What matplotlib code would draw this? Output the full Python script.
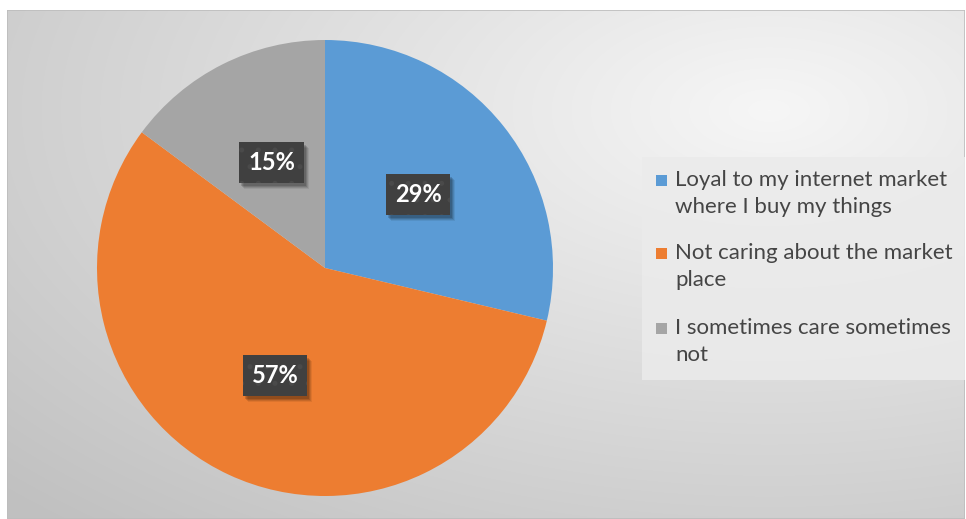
import numpy as np
import matplotlib
matplotlib.use("Agg")
import matplotlib.pyplot as plt
from matplotlib.patches import Rectangle

categories = [
    "Loyal to my internet market\nwhere I buy my things",
    "Not caring about the market\nplace",
    "I sometimes care sometimes\nnot",
]
values = [29, 57, 15]
colors = ["#5B9BD5", "#ED7D31", "#A5A5A5"]

W, H = 966, 519
fig = plt.figure(figsize=(W / 100, H / 100), dpi=100)
fig.patch.set_facecolor("white")

def fx(px):
    return px / W

def fy(py):
    return 1 - py / H

# chart area with a soft radial gradient
x0, y0, x1, y1 = 7, 10, 965, 519
bg = fig.add_axes([fx(x0), fy(y1), fx(x1 - x0), (y1 - y0) / H])
bg.set_axis_off()
gx = np.linspace(x0, x1, 400)
gy = np.linspace(y0, y1, 220)
GX, GY = np.meshgrid(gx, gy)
cx, cy = 770, 110
d = np.sqrt(((GX - cx) / (x1 - x0)) ** 2 + ((GY - cy) / (y1 - y0)) ** 2)
t = np.clip(d / 1.1, 0, 1)
shade = 0.965 - 0.21 * t
img = np.dstack([shade, shade, shade])
bg.imshow(img, extent=[0, 1, 0, 1], aspect="auto", origin="upper", interpolation="bilinear")
bg.set_xlim(0, 1)
bg.set_ylim(0, 1)
bg.add_patch(Rectangle((0, 0), 1, 1, transform=bg.transAxes, fill=False,
                       edgecolor="#bdbdbd", linewidth=1.2))

# pie
pcx, pcy, r = 325, 268, 228
ax = fig.add_axes([fx(pcx - r), fy(pcy + r), 2 * r / W, 2 * r / H])
ax.set_axis_off()
wedges, _ = ax.pie(values, colors=colors, startangle=90, counterclock=False,
                   radius=1, wedgeprops=dict(linewidth=0))
ax.set_xlim(-1, 1)
ax.set_ylim(-1, 1)
ax.set_aspect("equal")

plt.rcParams["hatch.color"] = "#4a4a4a"
plt.rcParams["hatch.linewidth"] = 1.2
labels = []
for w, v in zip(wedges, values):
    mid = np.deg2rad((w.theta1 + w.theta2) / 2)
    lx, ly = 0.52 * np.cos(mid), 0.52 * np.sin(mid)
    txt = ax.text(lx, ly, f"{v}%", ha="center", va="center", color="white",
                  fontsize=17, fontweight="bold", family="Lato", zorder=4,
                  bbox=dict(boxstyle="square,pad=0.38", facecolor="#404040",
                            edgecolor="#4a4a4a", linewidth=0, hatch="."))
    labels.append(txt)

# soft drop shadow behind each label box, above the wedges
fig.canvas.draw()
inv = fig.transFigure.inverted()
for txt in labels:
    ext = txt.get_bbox_patch().get_window_extent()
    for k, (dx, dy, a) in enumerate([(5, -6, 0.07), (4, -5, 0.10), (3, -4, 0.13), (2, -3, 0.15)]):
        (fx0, fy0), (fx1, fy1) = inv.transform([(ext.x0 + dx, ext.y0 + dy),
                                                (ext.x1 + dx, ext.y1 + dy)])
        ax.add_patch(Rectangle((fx0, fy0), fx1 - fx0, fy1 - fy0,
                               transform=fig.transFigure, clip_on=False,
                               facecolor=(0, 0, 0, a), edgecolor="none",
                               zorder=3 + k * 0.01))

# legend panel
lx0, ly0, lx1, ly1 = 642, 157, 965, 380
fig.patches.append(Rectangle((fx(lx0), fy(ly1)), fx(lx1 - lx0), (ly1 - ly0) / H,
                             transform=fig.transFigure, facecolor="#ebebeb",
                             edgecolor="none", alpha=0.85, zorder=1))
first_line_y = [180, 253, 328]
for cat, col, yy in zip(categories, colors, first_line_y):
    fig.patches.append(Rectangle((fx(656), fy(yy + 6)), fx(11), 11 / H,
                                 transform=fig.transFigure, facecolor=col,
                                 edgecolor="none", zorder=2))
    fig.text(fx(675), fy(yy - 10), cat, ha="left", va="top", fontsize=16,
             family="Lato", color="#454545", linespacing=1.42, zorder=3)

fig.savefig("out.png", dpi=100)
